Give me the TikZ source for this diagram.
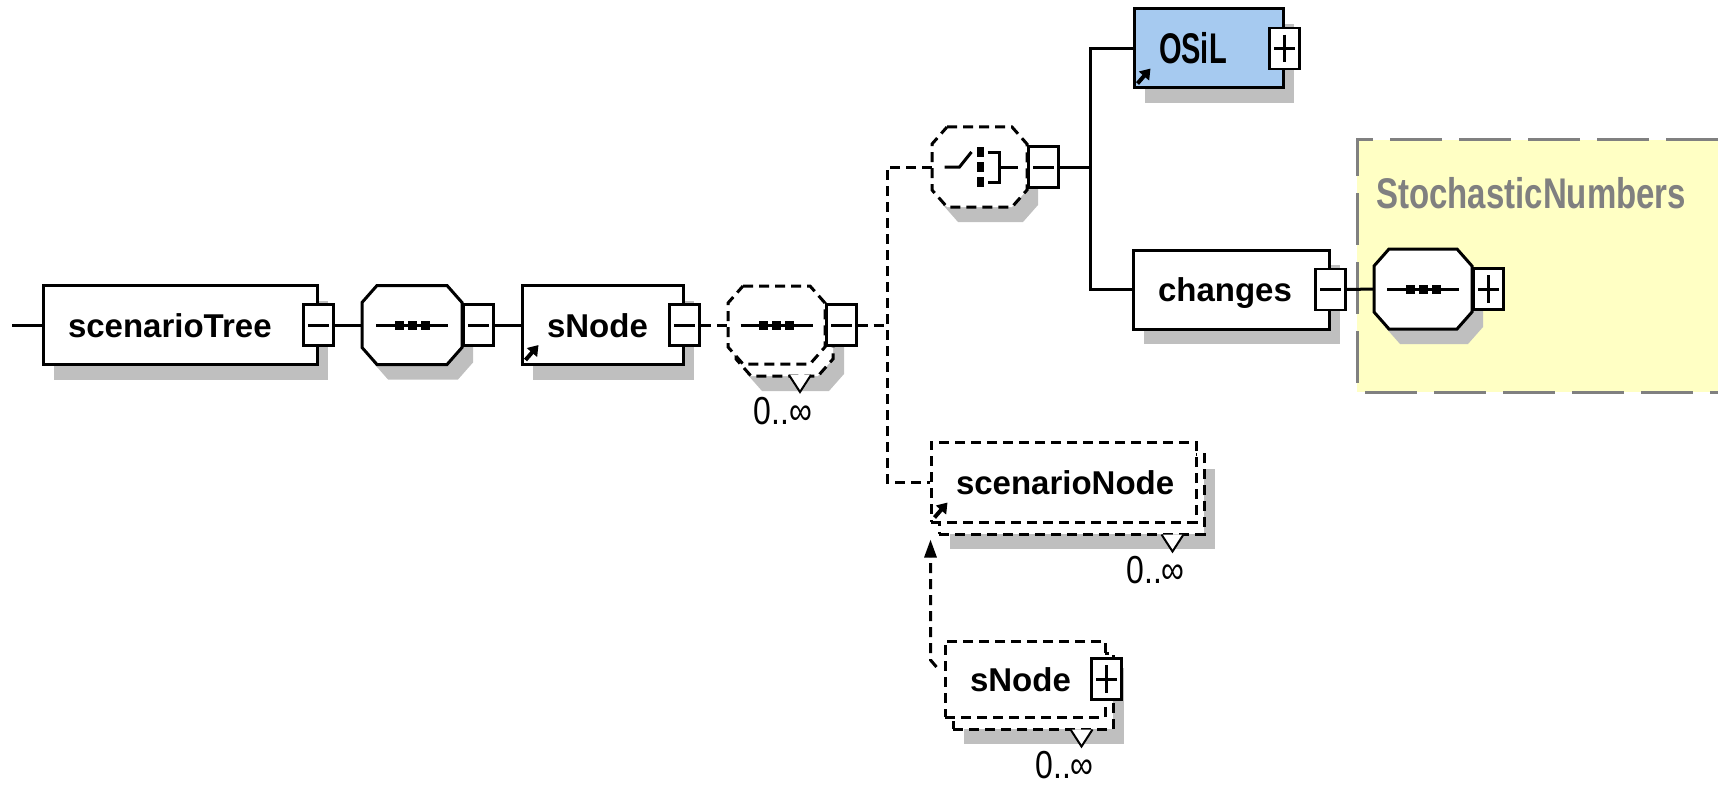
\documentclass[tikz,border=0pt]{standalone}
\usepackage{fontspec}
\usepackage{graphicx}
\setmainfont{Liberation Sans}
\usetikzlibrary{arrows.meta,shadows,calc}

\newcommand\elemfont{\fontsize{33}{36}\selectfont\bfseries}
\newcommand\multfont{\fontsize{32}{34}\selectfont}
% octagon round a (hidden) compositor node
\newcommand\octagon[1]{([xshift=15pt]#1.north west) -- ([xshift=-15pt]#1.north east)
  -- ([yshift=-17pt]#1.north east) -- ([yshift=17pt]#1.south east)
  -- ([xshift=-15pt]#1.south east) -- ([xshift=15pt]#1.south west)
  -- ([yshift=17pt]#1.south west) -- ([yshift=-17pt]#1.north west) -- cycle}

\definecolor{refblue}{RGB}{166,202,240}
\definecolor{groupfill}{RGB}{255,255,196}
\definecolor{groupline}{RGB}{128,128,128}
\colorlet{shadowgray}{black!25}

\begin{document}
\begin{tikzpicture}
  [x=1pt,y=-1pt,
   % Styles
   elem/.style={draw,line width=3pt,fill=white,minimum height=79pt,
     inner xsep=25pt,inner ysep=0pt,text height=24pt,text depth=0pt,
     align=left,font=\elemfont},
   comp/.style={minimum width=100pt,minimum height=79pt,inner sep=0pt,outer sep=0pt},
   octline/.style={line width=3pt,fill=white},
   optional/.style={dash pattern=on 10pt off 6pt},
   boxshadow/.style={drop shadow={shadow xshift=11pt,shadow yshift=-15pt,
     fill=shadowgray,opacity=1}},
   btn/.style={draw,line width=2.5pt,fill=white,minimum width=30pt,
     minimum height=41pt,inner sep=0pt},
   btnsym/.style={line width=3pt,shorten <=6pt,shorten >=6pt},
   conn/.style={line width=3pt},
   optconn/.style={line width=3pt,dash pattern=on 10pt off 6pt},
   icon/.style={line width=3pt},
   reflink/.style={line width=4pt,-{Triangle[length=10pt,width=13pt]}},
   notch/.style={line width=2pt,fill=white},
   mult/.style={font=\multfont,inner sep=0pt}]

  \useasboundingbox (0,0) rectangle (1718,789);

  % The group box
  \fill[groupfill] (1357,140) rectangle (1718,392);
  \draw[groupline,line width=3pt,dash pattern=on 52pt off 17pt]
    (1718,140) -- (1357,140) -- (1357,392) -- (1718,392);
  \node[anchor=base west,text=groupline,font=\elemfont,inner sep=0pt] (stoch)
    at (1376,208) {\scalebox{1}[1.3]{StochasticNumbers}};

  % Elements
  \coordinate (start) at (12,325);
  \node[elem,boxshadow,text width=224pt] (tree) at (180,325) {scenarioTree};
  \node[btn] (treeb) at (tree.east) {};

  \node[comp] (seq) at (412,325) {};
  \filldraw[octline,boxshadow] \octagon{seq};
  \node[btn,anchor=west] (seqb) at (seq.east) {};

  \node[elem,boxshadow,text width=111pt] (snode) at (602.5,325) {sNode};
  \node[btn] (snodeb) at (snode.east) {};

  \node[comp,minimum width=97pt,minimum height=78pt] (rseqback) at (784.5,337) {};
  \node[comp,minimum width=97pt,minimum height=78pt] (rseq) at (776.5,325) {};
  \filldraw[octline,optional,boxshadow] \octagon{rseqback};
  \filldraw[octline,optional] \octagon{rseq};
  \node[btn,anchor=west] (rseqb) at (rseq.east) {};

  \node[comp,minimum width=95pt,minimum height=80pt] (choice) at (979.5,167) {};
  \filldraw[octline,optional,boxshadow] \octagon{choice};
  \node[btn,anchor=west] (choiceb) at (choice.east) {};

  \node[elem,boxshadow,fill=refblue,text width=99pt,text height=31pt]
    (osil) at (1208.5,48.5) {\scalebox{0.88}[1.3]{OSiL}};
  \node[btn] (osilb) at (osil.east) {};

  \node[elem,boxshadow,text width=146pt] (changes) at (1231,289.5) {changes};
  \node[btn] (changesb) at (changes.east) {};

  \node[comp,minimum width=98pt,minimum height=80pt] (nums) at (1423,289) {};
  \filldraw[octline,boxshadow] \octagon{nums};
  \node[btn,anchor=west] (numsb) at (nums.east) {};

  \node[elem,optional,boxshadow,text width=215pt,minimum height=80pt]
    (scnback) at (1071.5,494) {};
  \node[elem,optional,text width=215pt,minimum height=80pt]
    (scn) at (1063.5,482) {scenarioNode};

  \node[elem,optional,boxshadow,text width=110pt,minimum height=76pt]
    (snode2back) at (1033,691) {};
  \node[elem,optional,text width=110pt,minimum height=76pt]
    (snode2) at (1025,679) {sNode};
  \node[btn] (snode2b) at (snode2.east) {};

  % Connectors
  \draw[conn] (start) -- (tree.west);
  \draw[conn] (treeb.east) -- (seq.west);
  \draw[conn] (seqb.east) -- (snode.west);
  \draw[optconn] (snodeb.east) -- (rseq.west);
  \coordinate (fork) at (887,325);
  \draw[optconn] (rseqb.east) -- (fork);
  \draw[optconn] (choice.west) -| (fork) |- (scn.west);
  \coordinate (fork2) at (1090,167);
  \draw[conn] (choiceb.east) -- (fork2);
  \draw[conn] (osil.west) -| (fork2) |- (changes.west);
  \draw[conn] (changesb.east) -- (nums.west);
  \draw[optconn,-{Triangle[length=18pt,width=12pt]}]
    ($(snode2.west)+(-7,-12)$) -- ++(-6,-7) -- ($(scnback.south west)+(-7,4)$);

  % Reference arrows
  \foreach \e in {snode,osil,scn}
    \draw[reflink] ([shift={(5,-6)}]\e.south west) -- ++(13,-15);

  % Buttons
  \foreach \b in {treeb,seqb,snodeb,rseqb,choiceb,changesb,osilb,numsb,snode2b}
    \draw[btnsym] (\b.west) -- (\b.east);
  \foreach \b in {osilb,numsb,snode2b}
    \draw[btnsym,shorten <=8pt,shorten >=8pt] (\b.north) -- (\b.south);

  % Sequence icons
  \foreach \c in {seq,rseq,nums} {
    \draw[icon] ([xshift=-36pt]\c.center) -- ([xshift=36pt]\c.center);
    \foreach \d in {-13,0,13}
      \fill ([xshift=\d pt]\c.center) +(-4.5,-4.5) rectangle +(4.5,4.5);
  }

  % Choice icon
  \draw[icon] ([xshift=-35pt]choice.center) -- ++(15,0) -- ++(12,-15);
  \foreach \d in {-15,0,15}
    \fill ($(choice.center)+(-2.5,{\d-5})$) rectangle ++(7,10);
  \draw[icon] ([xshift=8pt]choice.center) ++(0,-15) -- ++(12,0) -- ++(0,30) -- ++(-12,0);
  \draw[icon] ([xshift=20pt]choice.center) -- ++(18,0);

  % Multiplicity
  \foreach \e in {rseqback,scnback,snode2back} {
    \coordinate (p) at ($(\e.east |- \e.south)+(-33,0)$);
    \filldraw[notch] ($(p)+(-11,-1)$) -- ($(p)+(0,16)$) -- ($(p)+(11,-1)$);
    \node[mult,anchor=north] (\e-m) at ($(p)+(-17,21)$) {\scalebox{1}[1.22]{0..∞}};
  }
\end{tikzpicture}
\end{document}
